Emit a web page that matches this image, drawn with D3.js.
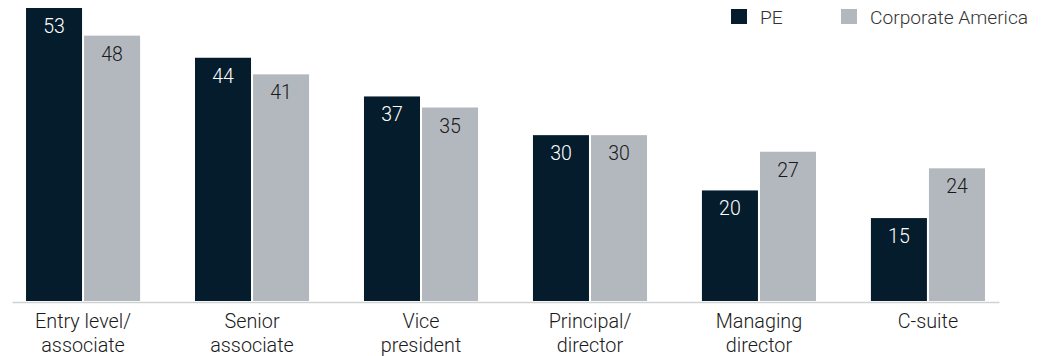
<!DOCTYPE html>
<html>
<head>
<meta charset="utf-8">
<script src="https://cdn.jsdelivr.net/npm/d3@7"></script>
<style>
  html, body { margin: 0; padding: 0; background: #fff; }
  svg text { font-family: Roboto, "Liberation Sans", Arial, sans-serif; font-weight: 300; }
</style>
</head>
<body>
<svg id="chart" width="1046" height="356"></svg>
<script>
const categories = [
  ["Entry level/", "associate"],
  ["Senior", "associate"],
  ["Vice", "president"],
  ["Principal/", "director"],
  ["Managing", "director"],
  ["C-suite"]
];
const seriesNames = ["PE", "Corporate America"];
const peValues = [53, 44, 37, 30, 20, 15];
const corpValues = [48, 41, 35, 30, 27, 24];
const colors = ["#051c2c", "#b3b8be"];
const labelColors = ["#ffffff", "#1a1a1a"];

const svg = d3.select("#chart");
const keys = categories.map((c, i) => i);
const series = [peValues, corpValues];

const x0 = d3.scaleBand().domain(keys).range([12, 999])
  .paddingInner(0.325).paddingOuter(0.083);
const x1 = d3.scaleBand().domain([0, 1]).range([0, x0.bandwidth()])
  .paddingInner(0.035).paddingOuter(0);
const y = d3.scaleLinear().domain([0, d3.max(peValues.concat(corpValues))]).range([301, 8]);

const groups = svg.append("g").selectAll("g").data(keys).join("g")
  .attr("transform", d => `translate(${x0(d)},0)`);

groups.selectAll("rect").data(d => [0, 1].map(s => ({s, v: series[s][d]}))).join("rect")
  .attr("x", d => x1(d.s))
  .attr("width", x1.bandwidth())
  .attr("y", d => y(d.v))
  .attr("height", d => y(0) - y(d.v))
  .attr("fill", d => colors[d.s]);

groups.selectAll("text.val").data(d => [0, 1].map(s => ({s, v: series[s][d]}))).join("text")
  .attr("class", "val")
  .attr("x", d => x1(d.s) + x1.bandwidth() / 2)
  .attr("y", d => y(d.v) + 25)
  .attr("text-anchor", "middle")
  .attr("font-size", 19.5)
  .attr("fill", d => labelColors[d.s])
  .text(d => d.v);

// baseline axis
const axis = d3.axisBottom(x0).tickSize(0).tickFormat(() => "");
const ax = svg.append("g").attr("transform", `translate(0,${y(0) + 1})`).call(axis);
ax.select(".domain").attr("stroke", "#cfd1d3").attr("stroke-width", 1.4);

// category labels
const catG = svg.append("g");
catG.selectAll("text").data(keys).join("text")
  .attr("x", d => x0(d) + x0.bandwidth() / 2)
  .attr("y", 328)
  .attr("text-anchor", "middle")
  .attr("font-size", 19.8)
  .attr("fill", "#1a1a1a")
  .each(function(d) {
    const t = d3.select(this);
    categories[d].forEach((line, i) => {
      t.append("tspan").attr("x", x0(d) + x0.bandwidth() / 2)
        .attr("dy", i === 0 ? 0 : 24).text(line);
    });
  });

// legend
const legendX = [731, 841];
const legend = svg.append("g");
seriesNames.forEach((name, i) => {
  legend.append("rect").attr("x", legendX[i]).attr("y", 9)
    .attr("width", 16).attr("height", 15).attr("fill", colors[i]);
  legend.append("text").attr("x", legendX[i] + 29).attr("y", 24)
    .attr("font-size", 19.2).attr("fill", "#333").text(name);
});
</script>
</body>
</html>
